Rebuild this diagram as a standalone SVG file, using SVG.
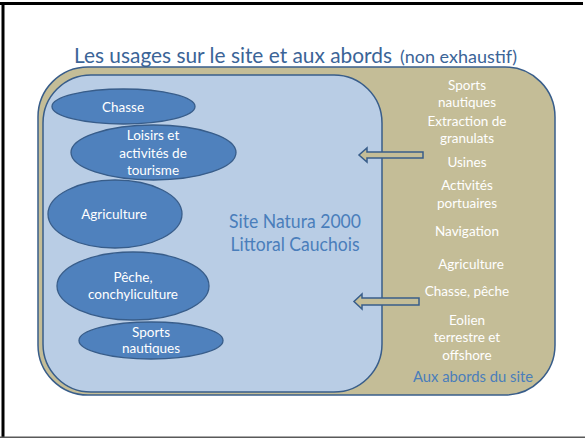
<svg xmlns="http://www.w3.org/2000/svg" width="585" height="439" viewBox="0 0 585 439">
<style>
.ell{fill:#4f81bd;stroke:#385d8a;stroke-width:1.3}
.wt{font-family:Lato,"Liberation Sans",sans-serif;font-size:13.5px;fill:#ffffff;text-anchor:middle}
.bt{font-family:Lato,"Liberation Sans",sans-serif;fill:#4a7ebb;text-anchor:middle}
.arr{fill:#c4bd97;stroke:#385d8a;stroke-width:1.5;stroke-linejoin:miter}
</style>
<rect width="585" height="439" fill="#ffffff"/>
<rect x="0" y="2" width="583" height="3" fill="#000"/>
<rect x="1.5" y="2" width="3" height="436" fill="#000"/>
<rect x="0" y="436.5" width="585" height="1.5" fill="#595959"/>
<text x="74" y="63" font-family="Lato,'Liberation Sans',sans-serif" fill="#3b6497"><tspan font-size="22" textLength="318" lengthAdjust="spacingAndGlyphs">Les usages sur le site et aux abords</tspan><tspan x="400" font-size="17" textLength="117" lengthAdjust="spacingAndGlyphs">(non exhaustif)</tspan></text>
<g id="abords">
<rect x="38" y="67" width="517" height="328" rx="50" ry="50" fill="#c4bd97" stroke="#385d8a" stroke-width="1.5"/>
<text class="bt" x="473" y="382" font-size="15.5" textLength="120" lengthAdjust="spacingAndGlyphs">Aux abords du site</text>
</g>
<g id="site">
<rect x="43" y="75" width="339" height="317" rx="48" ry="48" fill="#b9cde5" stroke="#385d8a" stroke-width="1.5"/>
<text class="bt" font-size="18.5"><tspan x="295" y="228" textLength="132" lengthAdjust="spacingAndGlyphs">Site Natura 2000</tspan><tspan x="295" y="251" textLength="129" lengthAdjust="spacingAndGlyphs">Littoral Cauchois</tspan></text>
</g>
<g id="chasse"><ellipse class="ell" cx="123.5" cy="106.5" rx="71.5" ry="17.5"/><text class="wt" x="123" y="112">Chasse</text></g>
<g id="loisirs"><ellipse class="ell" cx="153.5" cy="152.5" rx="82.5" ry="27.5"/><text class="wt"><tspan x="153" y="140">Loisirs et</tspan><tspan x="153" y="158">activités de</tspan><tspan x="153" y="175">tourisme</tspan></text></g>
<g id="agriculture"><ellipse class="ell" cx="115" cy="214" rx="67" ry="34"/><text class="wt" x="114" y="219">Agriculture</text></g>
<g id="peche"><ellipse class="ell" cx="133" cy="286" rx="76" ry="34"/><text class="wt"><tspan x="133" y="282">Pêche,</tspan><tspan x="133" y="299">conchyliculture</tspan></text></g>
<g id="sports"><ellipse class="ell" cx="151" cy="340.5" rx="72" ry="18.5"/><text class="wt"><tspan x="151" y="337">Sports</tspan><tspan x="151" y="353">nautiques</tspan></text></g>
<g id="usages-abords">
<text class="wt"><tspan x="467" y="90">Sports</tspan><tspan x="467" y="107">nautiques</tspan><tspan x="467" y="126">Extraction de</tspan><tspan x="467" y="143">granulats</tspan><tspan x="467" y="167">Usines</tspan><tspan x="467" y="190">Activités</tspan><tspan x="467" y="208">portuaires</tspan><tspan x="467" y="236">Navigation</tspan><tspan x="471" y="269">Agriculture</tspan><tspan x="467" y="296">Chasse, pêche</tspan><tspan x="467" y="325">Eolien</tspan><tspan x="467" y="342">terrestre et</tspan><tspan x="467" y="360">offshore</tspan></text>
</g>
<g id="connectors">
<path class="arr" d="M423 152 L367 152 L367 148 L359 155 L367 162 L367 158 L423 158 Z"/>
<path class="arr" d="M419 298 L362 298 L362 294 L354 301.5 L362 309 L362 305 L419 305 Z"/>
</g>
</svg>
